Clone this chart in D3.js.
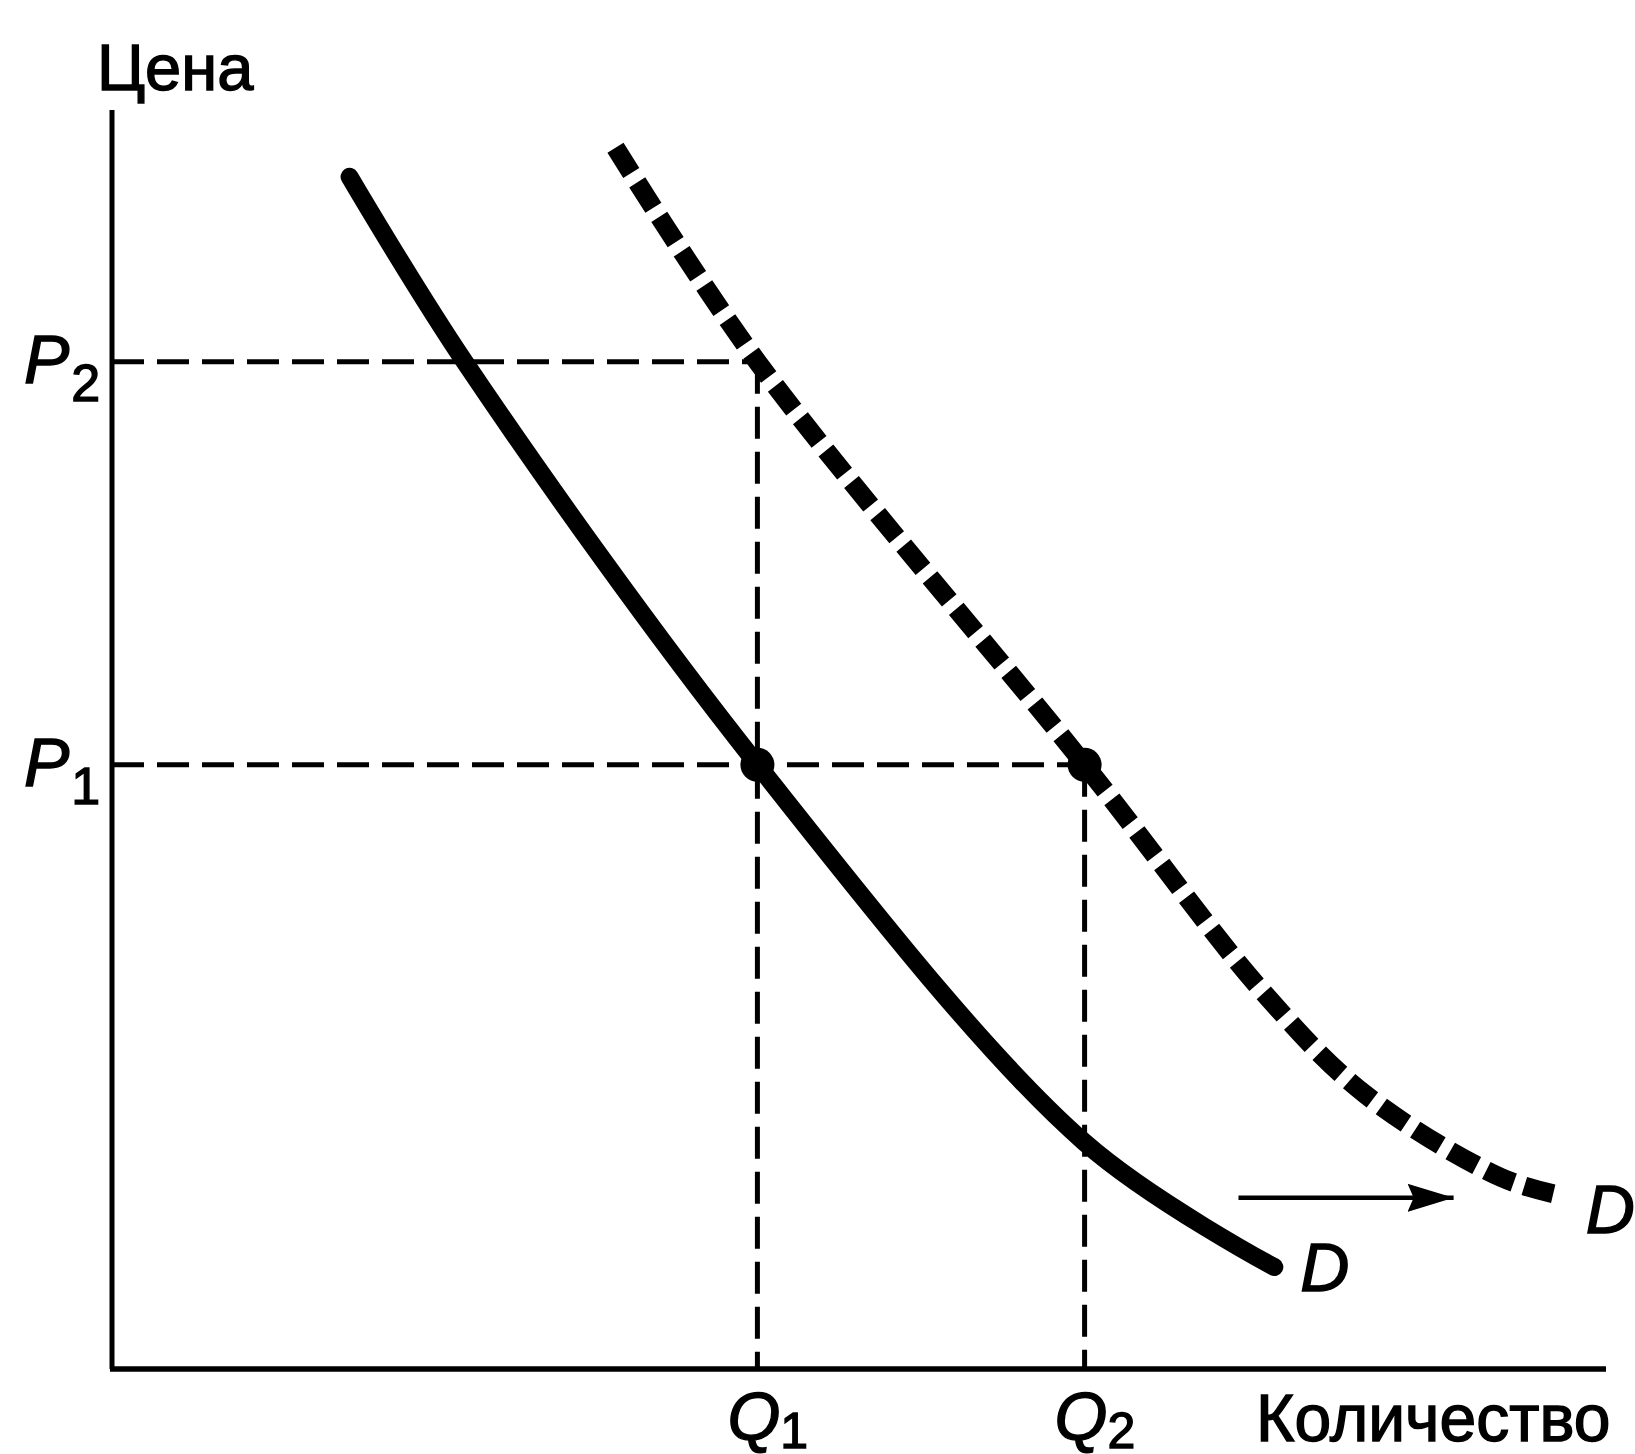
<!DOCTYPE html>
<html>
<head>
<meta charset="utf-8">
<title>Сдвиг кривой спроса</title>
<script src="https://d3js.org/d3.v7.min.js"></script>
<style>
  body { margin: 0; background: #fff; }
  svg { display: block; }
  text { font-family: "Liberation Sans", Arial, sans-serif; fill: #000; stroke: #000; stroke-width: 1.4px; }
  .it { font-style: italic; }
</style>
</head>
<body>
<svg id="chart" width="1635" height="1454"></svg>
<script>
// values (quantity / price in % of axis length)
const demandD = [
  [15.9, 94.7], [23.6, 80.0], [43.2, 48.0], [65.1, 18.0], [77.8, 8.1]
];
const demandD2 = [
  [33.7, 97.0], [43.2, 80.0], [65.1, 48.0], [77.0, 30.0], [83.9, 21.8],
  [93.0, 15.2], [96.9, 13.8]
];
const qLevels = [43.2, 65.1];      // Q1, Q2
const pLevels = [48.0, 80.0];      // P1, P2
const qLabels = ["1", "2"];
const pLabels = ["1", "2"];
const shiftArrow = [[75.4, 13.6], [89.8, 13.6]];

var svg = d3.select("#chart");

var x = d3.scaleLinear().domain([0, 100]).range([112, 1606]);
var y = d3.scaleLinear().domain([0, 100]).range([1369, 110]);

var line = d3.line()
  .x(function(d) { return x(d[0]); })
  .y(function(d) { return y(d[1]); })
  .curve(d3.curveCatmullRom.alpha(0.5));

// ---- guide lines (thin dashes) ----
var guides = svg.append("g")
  .attr("stroke", "#000").attr("stroke-width", 5)
  .attr("stroke-dasharray", "32,13").attr("fill", "none");

// P2 -> point on D'  ,  P1 -> point on D'
guides.append("line")
  .attr("x1", x(0)).attr("x2", x(qLevels[0]))
  .attr("y1", y(pLevels[1])).attr("y2", y(pLevels[1]));
guides.append("line")
  .attr("x1", x(0)).attr("x2", x(qLevels[1]))
  .attr("y1", y(pLevels[0])).attr("y2", y(pLevels[0]));
// Q1 from P2 down, Q2 from P1 down
guides.append("line")
  .attr("x1", x(qLevels[0])).attr("x2", x(qLevels[0]))
  .attr("y1", y(pLevels[1])).attr("y2", y(0));
guides.append("line")
  .attr("x1", x(qLevels[1])).attr("x2", x(qLevels[1]))
  .attr("y1", y(pLevels[0])).attr("y2", y(0));

// ---- axes ----
svg.append("line")
  .attr("x1", x(0)).attr("x2", x(0)).attr("y1", y(0)).attr("y2", y(100))
  .attr("stroke", "#000").attr("stroke-width", 5);
svg.append("line")
  .attr("x1", x(0) - 2).attr("x2", x(100)).attr("y1", y(0)).attr("y2", y(0))
  .attr("stroke", "#000").attr("stroke-width", 5.5);

// ---- demand curves ----
svg.append("path")
  .datum(demandD)
  .attr("d", line)
  .attr("fill", "none").attr("stroke", "#000")
  .attr("stroke-width", 18).attr("stroke-linecap", "round");

svg.append("path")
  .datum(demandD2)
  .attr("d", line)
  .attr("fill", "none").attr("stroke", "#000")
  .attr("stroke-width", 19).attr("stroke-dasharray", "30,11");

// ---- equilibrium points ----
svg.selectAll("circle.pt")
  .data(qLevels)
  .enter().append("circle")
  .attr("class", "pt")
  .attr("cx", function(d) { return x(d); })
  .attr("cy", y(pLevels[0]))
  .attr("r", 17)
  .attr("fill", "#000");

// ---- shift arrow ----
svg.append("defs").append("marker")
  .attr("id", "head")
  .attr("viewBox", "0 0 46 28")
  .attr("refX", 46).attr("refY", 14)
  .attr("markerWidth", 46).attr("markerHeight", 28)
  .attr("markerUnits", "userSpaceOnUse")
  .attr("orient", "auto")
  .append("path").attr("d", "M0,0 L46,14 L0,28 L6,14 Z").attr("fill", "#000");

svg.append("line")
  .attr("x1", x(shiftArrow[0][0])).attr("y1", y(shiftArrow[0][1]))
  .attr("x2", x(shiftArrow[1][0])).attr("y2", y(shiftArrow[1][1]))
  .attr("stroke", "#000").attr("stroke-width", 4.5)
  .attr("marker-end", "url(#head)");

// ---- text ----
svg.append("text").attr("x", 97).attr("y", 90)
  .attr("font-size", 65).text("Цена");
svg.append("text").attr("x", 1256).attr("y", 1441)
  .attr("font-size", 66).text("Количество");

// price labels
pLevels.forEach(function(p, i) {
  var t = svg.append("text")
    .attr("x", 24).attr("y", y(p) + 21)
    .attr("font-size", 68);
  t.append("tspan").attr("class", "it").text("P");
  t.append("tspan").attr("font-size", 52).attr("dy", 18).attr("dx", 2).text(pLabels[i]);
});

// quantity labels
qLevels.forEach(function(q, i) {
  var t = svg.append("text")
    .attr("x", x(q) - 30).attr("y", 1440)
    .attr("font-size", 68);
  t.append("tspan").attr("class", "it").text("Q");
  t.append("tspan").attr("font-size", 50).attr("dy", 8).text(qLabels[i]);
});

// curve names
var lastD = demandD[demandD.length - 1];
var lastD2 = demandD2[demandD2.length - 1];
svg.append("text").attr("class", "it")
  .attr("x", x(lastD[0]) + 26).attr("y", y(lastD[1]) + 24)
  .attr("font-size", 68).text("D");
svg.append("text").attr("class", "it")
  .attr("x", x(lastD2[0]) + 26).attr("y", y(lastD2[1]) + 38)
  .attr("font-size", 68).text("D′");
</script>
</body>
</html>
